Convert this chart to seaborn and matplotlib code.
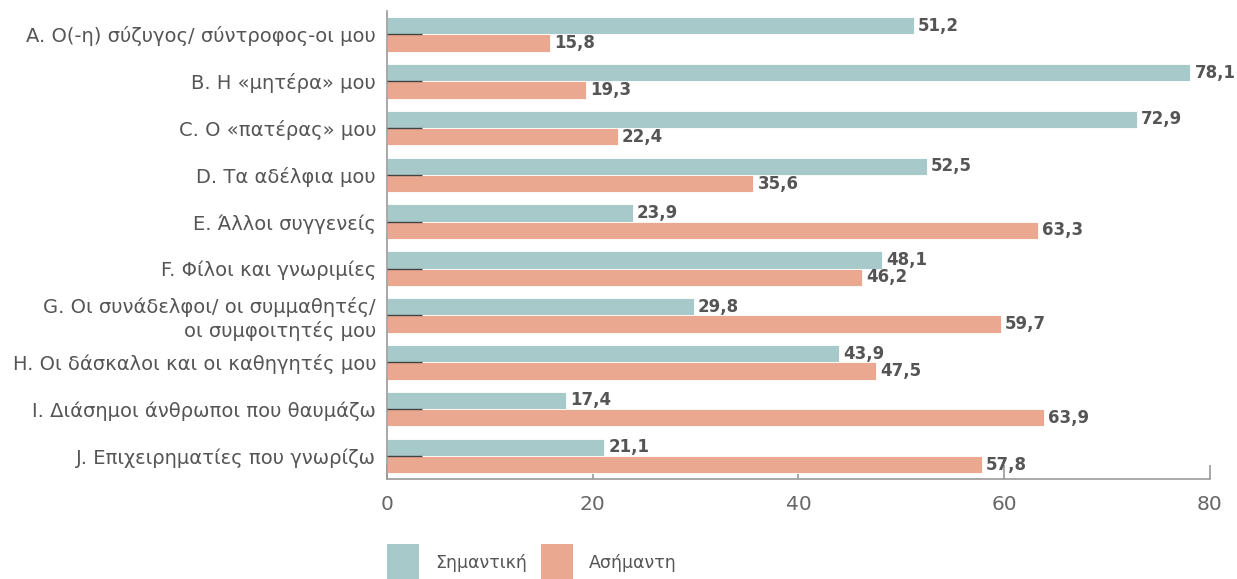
import pandas as pd
import matplotlib
matplotlib.use("Agg")
import matplotlib.pyplot as plt
import seaborn as sns
from matplotlib.patches import Patch

categories = [
    "A. Ο(-η) σύζυγος/ σύντροφος-οι μου",
    "B. Η «μητέρα» μου",
    "C. Ο «πατέρας» μου",
    "D. Τα αδέλφια μου",
    "E. Άλλοι συγγενείς",
    "F. Φίλοι και γνωριμίες",
    "G. Οι συνάδελφοι/ οι συμμαθητές/\nοι συμφοιτητές μου",
    "H. Οι δάσκαλοι και οι καθηγητές μου",
    "I. Διάσημοι άνθρωποι που θαυμάζω",
    "J. Επιχειρηματίες που γνωρίζω",
]
important = [51.2, 78.1, 72.9, 52.5, 23.9, 48.1, 29.8, 43.9, 17.4, 21.1]
unimportant = [15.8, 19.3, 22.4, 35.6, 63.3, 46.2, 59.7, 47.5, 63.9, 57.8]
series_names = ["Σημαντική", "Ασήμαντη"]
colors = ["#A8C9C9", "#EBA891"]
x_ticks = [0, 20, 40, 60, 80]

df = pd.DataFrame({
    "category": categories * 2,
    "value": important + unimportant,
    "series": [series_names[0]] * len(categories) + [series_names[1]] * len(categories),
})

sns.set_style("white")
plt.rcParams["font.family"] = ["DejaVu Sans"]
grey = "#555555"

fig = plt.figure(figsize=(12.37, 5.79), dpi=100)
ax = fig.add_axes([0.313, 0.172, 0.665, 0.809])

sns.barplot(data=df, y="category", x="value", hue="series", orient="h",
            palette=colors, width=0.74, saturation=1, legend=False,
            edgecolor="white", linewidth=0.6, ax=ax)

for container in ax.containers:
    labels = [f"{v:.1f}".replace(".", ",") for v in container.datavalues]
    ax.bar_label(container, labels=labels, padding=3, fontsize=12,
                 fontweight="bold", color=grey)

# y ticks sit on top of the bars (visible in the gap), x ticks hide behind them
ax.set_axisbelow(False)
ax.xaxis.set_zorder(0.5)

ax.set_xlim(0, 80)
ax.set_xticks(x_ticks)
ax.set_xlabel("")
ax.set_ylabel("")
sns.despine(ax=ax, top=True, right=True)
for side in ["left", "bottom"]:
    ax.spines[side].set_color("#999999")
    ax.spines[side].set_linewidth(1.2)

ax.tick_params(axis="x", bottom=True, direction="in", length=10, width=1.2, color="#999999",
               labelsize=14.5, labelcolor="#666666", pad=11)
ax.tick_params(axis="y", left=True, direction="in", length=25, width=1, color="#444444",
               labelsize=14, labelcolor=grey, pad=8)

handles = [Patch(facecolor=c, edgecolor="none", label=n) for c, n in zip(colors, series_names)]
fig.legend(handles=handles, loc="lower left", bbox_to_anchor=(0.3055, -0.019),
           ncol=2, frameon=False, fontsize=12.5, handlelength=1.84, handleheight=2.9,
           handletextpad=0.95, columnspacing=0.8, borderpad=0, labelcolor=grey)

fig.savefig("out.png", dpi=100)
plt.close(fig)
